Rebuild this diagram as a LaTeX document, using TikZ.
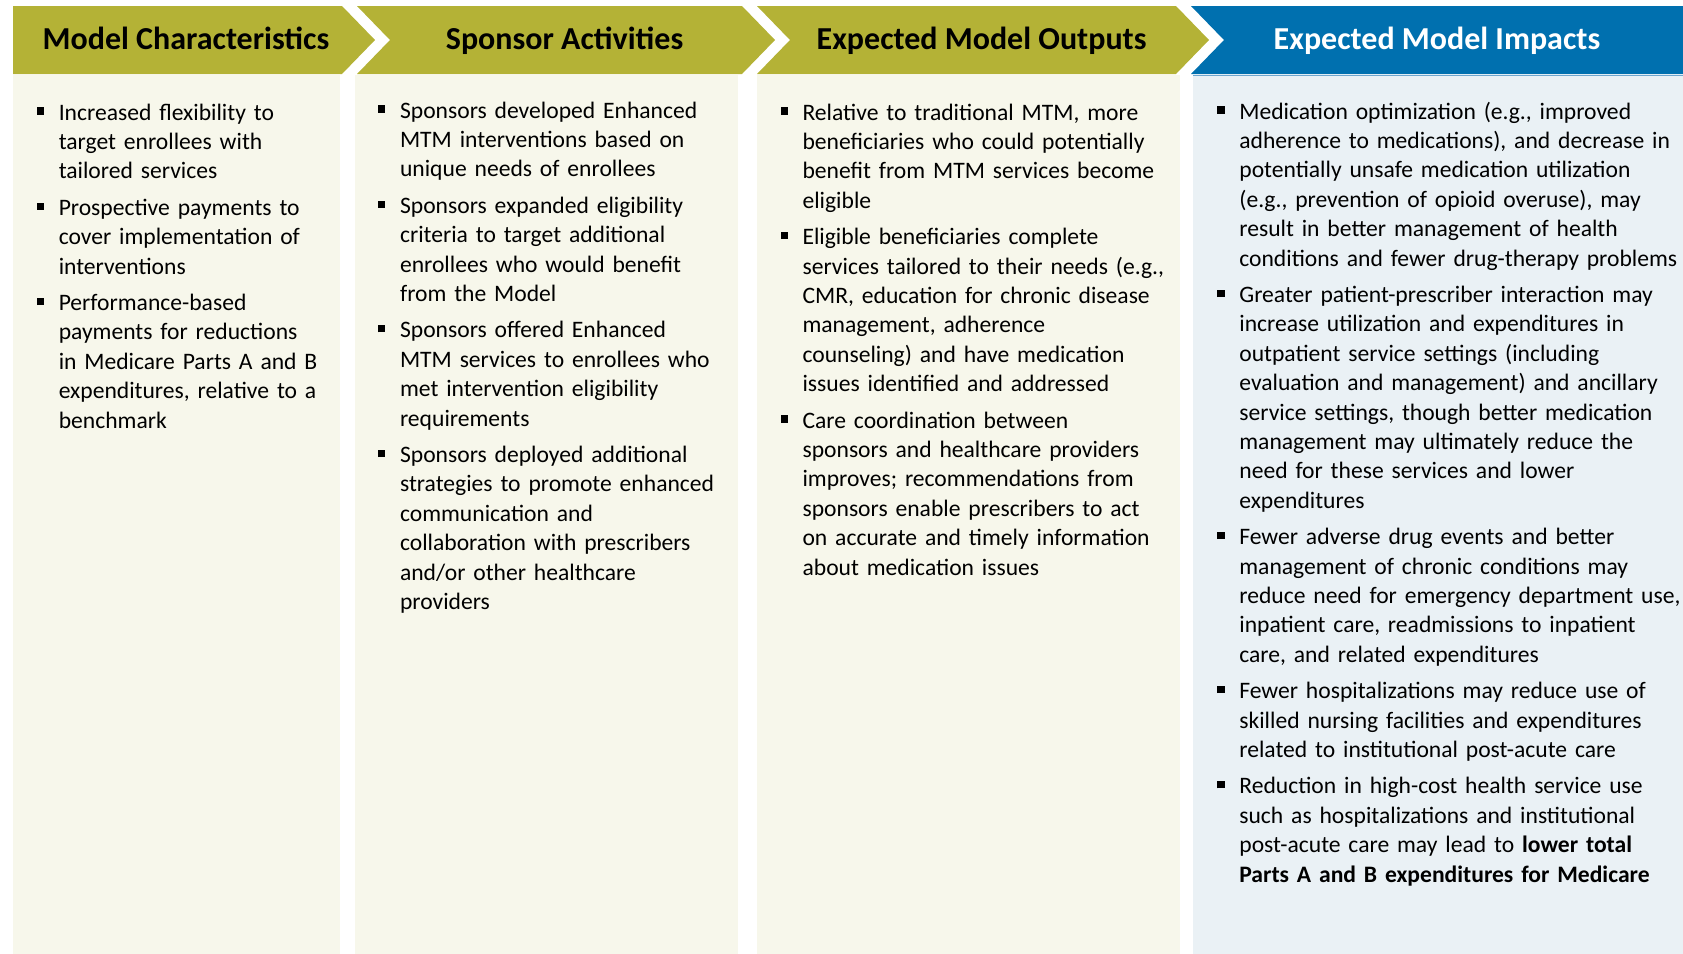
\documentclass[tikz,border=0pt]{standalone}
\usepackage{fontspec}
\setmainfont{Carlito}

\definecolor{hdrgreen}{RGB}{180,178,54}
\definecolor{hdrblue}{RGB}{0,112,175}
\definecolor{bodycream}{RGB}{247,247,235}
\definecolor{bodyblue}{RGB}{234,241,245}
\definecolor{lineblue}{RGB}{110,165,205}

% square bullet and the list used in every column
\newcommand{\sqbul}{\rule[2.7pt]{3.6pt}{3.6pt}}
\newenvironment{pointlist}{\begin{list}{\sqbul}{%
  \setlength{\leftmargin}{11pt}\setlength{\labelwidth}{3.6pt}%
  \setlength{\labelsep}{7.4pt}\setlength{\itemsep}{3.5pt}%
  \setlength{\parsep}{0pt}\setlength{\topsep}{0pt}\setlength{\partopsep}{0pt}}}%
  {\end{list}}

\tikzset{every picture/.style={line width=0.75pt}}
\tikzset{title/.style={anchor=base,inner sep=0pt,font=\fontsize{16}{19}\selectfont\bfseries},
         points/.style={anchor=base west,inner sep=0pt,align=left,font=\fontsize{11.8}{14.7}\selectfont}}

\begin{document}
\begin{tikzpicture}[x=0.5pt,y=-0.5pt]
	\useasboundingbox (0,0) rectangle (1683,954);
	%Cot 1-4
	\fill[bodycream] (13,75) rectangle (340,954);
	\fill[bodycream] (355,75) rectangle (738,954);
	\fill[bodycream] (757,75) rectangle (1180,954);
	\fill[bodyblue] (1193,75) rectangle (1683,954);
	\draw[lineblue] (1193,75.5) -- (1683,75.5);
	%Mui ten 1
	\fill[hdrgreen] (13,6) -- (342,6) -- (375,40) -- (342,74) -- (13,74) -- cycle;
	\node[title] (hdrchar) at (186,49.5) {Model Characteristics};
	%Mui ten 2
	\fill[hdrgreen] (357,6) -- (742,6) -- (775,40) -- (742,74) -- (357,74) -- (390,40) -- cycle;
	\node[title] (hdract) at (564.6,49.5) {Sponsor Activities};
	%Mui ten 3
	\fill[hdrgreen] (757,6) -- (1176,6) -- (1209,40) -- (1176,74) -- (757,74) -- (790,40) -- cycle;
	\node[title] (hdrout) at (981.6,49.5) {Expected Model Outputs};
	%Mui ten 4
	\fill[hdrblue] (1191,6) -- (1683,6) -- (1683,74) -- (1191,74) -- (1224,40) -- cycle;
	\node[title,white] (hdrimp) at (1437,49.5) {Expected Model Impacts};
	%Noi dung cot 1
	\node[points,text width=160pt] (charpts) at (36,90.6) {\begin{pointlist}
		\item Increased flexibility to\\ target enrollees with\\ tailored services
		\item Prospective payments to\\ cover implementation of\\ interventions
		\item Performance-based\\ payments for reductions\\ in Medicare Parts A and B\\ expenditures, relative to a\\ benchmark
	\end{pointlist}};
	%Noi dung cot 2
	\node[points,text width=190pt] (actpts) at (377.3,88.6) {\begin{pointlist}
		\item Sponsors developed Enhanced\\ MTM interventions based on\\ unique needs of enrollees
		\item Sponsors expanded eligibility\\ criteria to target additional\\ enrollees who would benefit\\ from the Model
		\item Sponsors offered Enhanced\\ MTM services to enrollees who\\ met intervention eligibility\\ requirements
		\item Sponsors deployed additional\\ strategies to promote enhanced\\ communication and\\ collaboration with prescribers\\ and/or other healthcare\\ providers
	\end{pointlist}};
	%Noi dung cot 3
	\node[points,text width=205pt] (outpts) at (779.8,90.6) {\begin{pointlist}
		\item Relative to traditional MTM, more\\ beneficiaries who could potentially\\ benefit from MTM services become\\ eligible
		\item Eligible beneficiaries complete\\ services tailored to their needs (e.g.,\\ CMR, education for chronic disease\\ management, adherence\\ counseling) and have medication\\ issues identified and addressed
		\item Care coordination between\\ sponsors and healthcare providers\\ improves; recommendations from\\ sponsors enable prescribers to act\\ on accurate and timely information\\ about medication issues
	\end{pointlist}};
	%Noi dung cot 4
	\node[points,text width=245pt] (imppts) at (1216.6,89.6) {\begin{pointlist}
		\item Medication optimization (e.g., improved\\ adherence to medications), and decrease in\\ potentially unsafe medication utilization\\ (e.g., prevention of opioid overuse), may\\ result in better management of health\\ conditions and fewer drug-therapy problems
		\item Greater patient-prescriber interaction may\\ increase utilization and expenditures in\\ outpatient service settings (including\\ evaluation and management) and ancillary\\ service settings, though better medication\\ management may ultimately reduce the\\ need for these services and lower\\ expenditures
		\item Fewer adverse drug events and better\\ management of chronic conditions may\\ reduce need for emergency department use,\\ inpatient care, readmissions to inpatient\\ care, and related expenditures
		\item Fewer hospitalizations may reduce use of\\ skilled nursing facilities and expenditures\\ related to institutional post-acute care
		\item Reduction in high-cost health service use\\ such as hospitalizations and institutional\\ post-acute care may lead to \textbf{lower total}\\ \textbf{Parts A and B expenditures for Medicare}
	\end{pointlist}};
\end{tikzpicture}
\end{document}
